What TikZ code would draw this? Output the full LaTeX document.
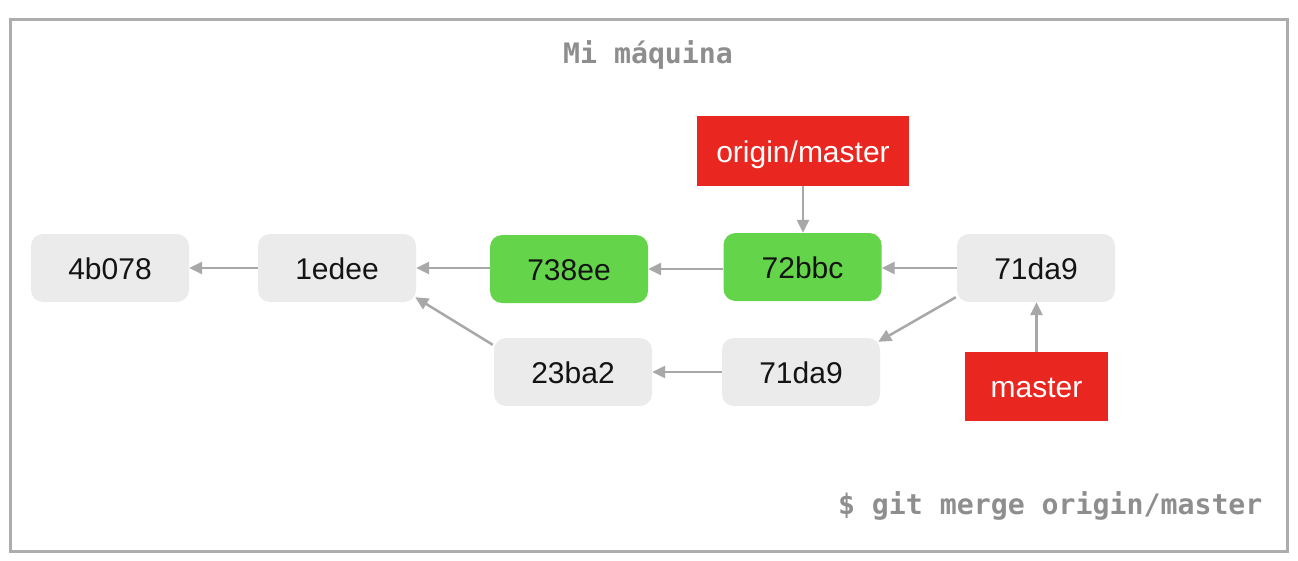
\documentclass[tikz,border=0pt]{standalone}
\usepackage{fontspec}
\setmainfont{Liberation Sans}
\newfontfamily\monob{DejaVu Sans Mono}[BoldFont={DejaVu Sans Mono Bold}]
\usetikzlibrary{arrows.meta}
\definecolor{framegray}{HTML}{ADADAD}
\definecolor{nodegray}{HTML}{EBEBEB}
\definecolor{commitgreen}{HTML}{64D54A}
\definecolor{refred}{HTML}{E9261F}
\definecolor{arrowgray}{HTML}{A8A8A8}
\definecolor{titlegray}{HTML}{8E8E8E}
\tikzset{
  commit/.style={rounded corners=12pt, minimum width=158pt, minimum height=68pt,
    inner sep=0pt, text height=22pt, text depth=0pt,
    font=\fontsize{30}{32}\selectfont, text=black!92},
  graycommit/.style={commit, fill=nodegray},
  greencommit/.style={commit, fill=commitgreen},
  refbox/.style={fill=refred, inner sep=0pt, text height=22pt, text depth=0pt,
    text=white, font=\fontsize{30}{32}\selectfont},
  parentarrow/.style={draw=arrowgray, line width=2.5pt, -{Triangle[length=13pt,width=12pt]}},
  monotext/.style={text=titlegray, font=\monob\bfseries\fontsize{28.2}{30}\selectfont}
}
\begin{document}
\begin{tikzpicture}[x=1pt,y=-1pt]
\useasboundingbox (0,0) rectangle (1298,560);
\draw[framegray, line width=3pt] (10.5,19) rectangle (1287,551.5);
\node[monotext, anchor=base] (title) at (648,63) {Mi máquina};
\node[monotext, anchor=base east] (cmd) at (1266,514) {\$ git merge origin/master};

\node[graycommit] (c4b) at (110,268) {4b078};
\node[graycommit] (c1e) at (337,268) {1edee};
\node[greencommit] (c738) at (569,269) {738ee};
\node[greencommit] (c72) at (802.5,267) {72bbc};
\node[graycommit] (t71) at (1036,268) {71da9};
\node[graycommit] (c23) at (573,372) {23ba2};
\node[graycommit] (b71) at (801,372) {71da9};
\node[refbox, minimum width=212pt, minimum height=70pt] (om) at (803,151) {origin/master};
\node[refbox, minimum width=143pt, minimum height=69pt] (ms) at (1036.5,386.5) {master};

\draw[parentarrow] (c1e.west) -- (c4b.east);
\draw[parentarrow] (c738.west |- c1e.east) -- (c1e.east);
\draw[parentarrow] (c72.west |- c738.east) -- (c738.east);
\draw[parentarrow] (t71.west) -- (c72.east |- t71.west);
\draw[parentarrow] (b71.west) -- (c23.east);
\draw[parentarrow] ([shift={(-1,7)}]c23.north west) -- ([shift={(-1,-5)}]c1e.south east);
\draw[parentarrow] ([shift={(-1,-5)}]t71.south west) -- ([shift={(-2,4)}]b71.north east);
\draw[parentarrow] (om.south) -- (om.south |- c72.north);
\draw[parentarrow] (ms.north) -- (ms.north |- t71.south);
\end{tikzpicture}
\end{document}
